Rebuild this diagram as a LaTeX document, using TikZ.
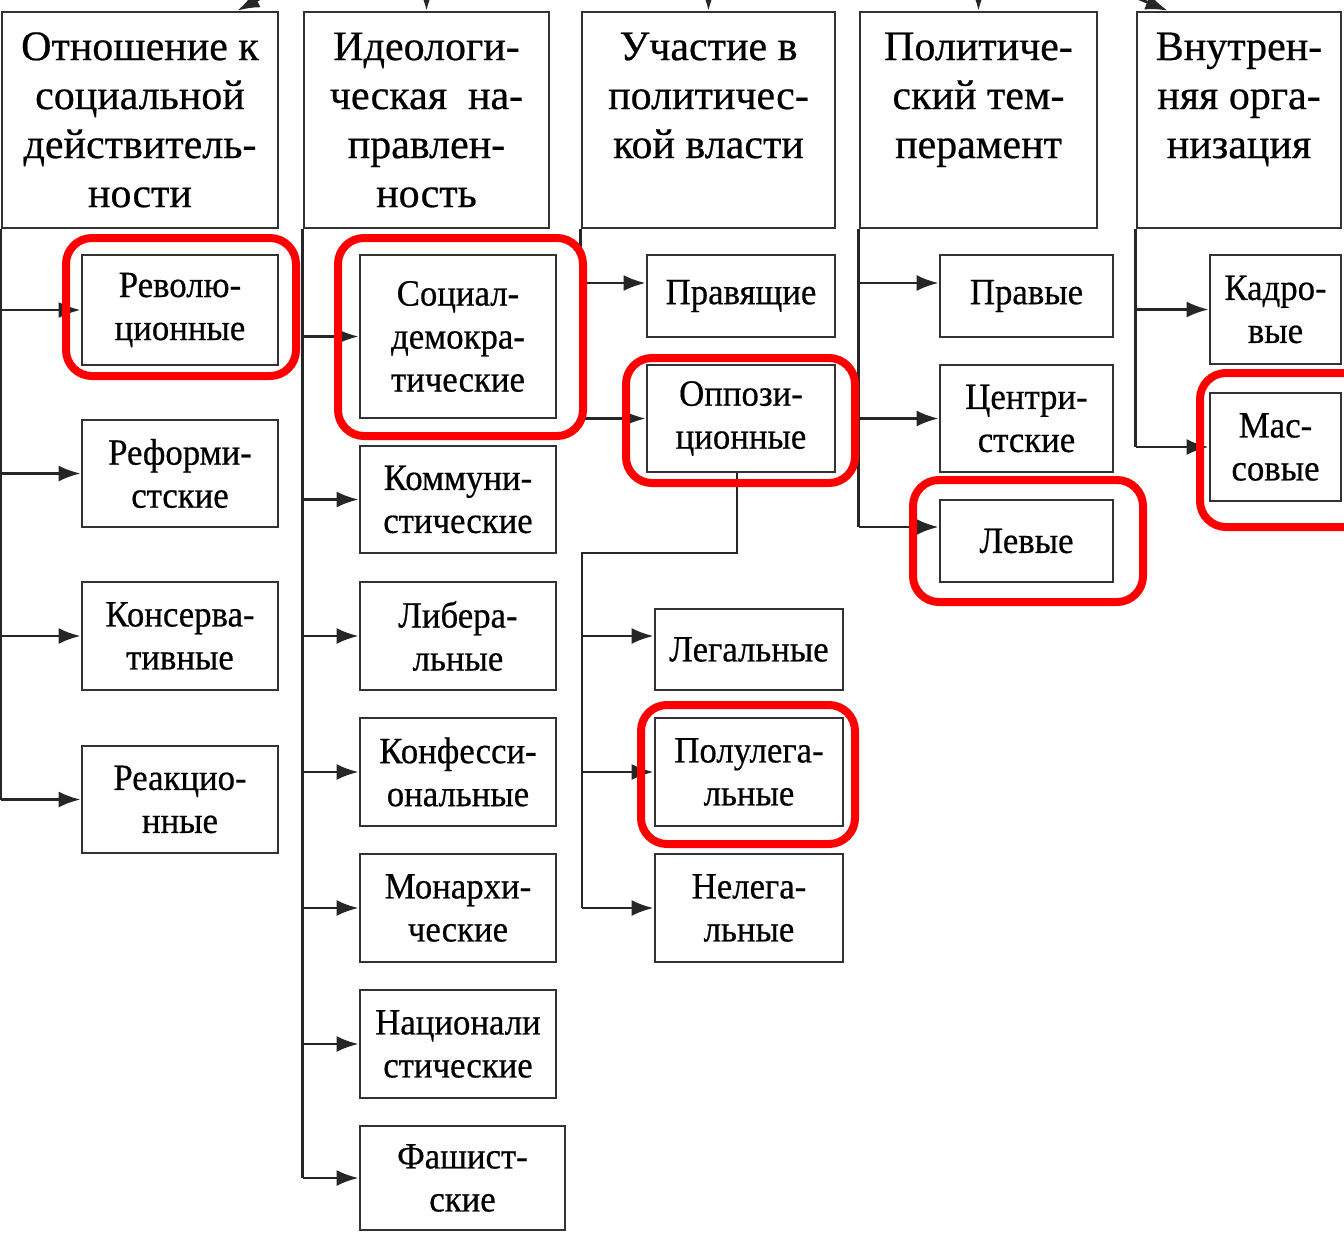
\documentclass[tikz,border=0pt]{standalone}
\usepackage{fontspec}
\setmainfont{Liberation Serif}
\newfontfamily\headfont{Liberation Serif}[FakeBold=0.5]
\newfontfamily\childfont{Liberation Serif}[FakeBold=0.5,FakeStretch=0.94]
\usetikzlibrary{arrows.meta}
\begin{document}
\begin{tikzpicture}[x=1pt,y=-1pt,
  hbox/.style={draw=black!80, line width=2.8pt, inner sep=0pt},
  htext/.style={font=\headfont\fontsize{42}{49}\selectfont, align=center, inner sep=0pt, anchor=north},
  cbox/.style={draw=black!80, line width=2.8pt, inner sep=0pt, align=center,
     font=\childfont\fontsize{37}{43}\selectfont},
  conn/.style={line width=2.8pt, black!85},
  arr/.style={conn, -{Latex[length=22pt,width=16pt]}},
  hl/.style={draw=red, line width=8pt, rounded corners=26pt}]
\useasboundingbox (0,0) rectangle (1344,1232);
\clip (0,0) rectangle (1344,1232);
\fill[white] (0,0) rectangle (1344,1232);

% headers
\node[hbox, minimum width=276pt, minimum height=216pt] (h1) at (140,120) {};
\node[hbox, minimum width=245pt, minimum height=216pt] (h2) at (426.5,120) {};
\node[hbox, minimum width=253pt, minimum height=216pt] (h3) at (708.5,120) {};
\node[hbox, minimum width=237pt, minimum height=216pt] (h4) at (978.5,120) {};
\node[hbox, minimum width=204pt, minimum height=216pt] (h5) at (1239,120) {};
\node[htext] (h1t) at ([yshift=-15pt]h1.north) {\strut Отношение к\\социальной\\действитель-\\ности};
\node[htext] (h2t) at ([yshift=-15pt]h2.north) {\strut Идеологи-\\ческая\ \ на-\\правлен-\\ность};
\node[htext] (h3t) at ([yshift=-15pt]h3.north) {\strut Участие в\\политичес-\\кой власти};
\node[htext] (h4t) at ([yshift=-15pt]h4.north) {\strut Политиче-\\ский тем-\\перамент};
\node[htext] (h5t) at ([yshift=-15pt]h5.north) {\strut Внутрен-\\няя орга-\\низация};

% arrows from above (root outside the picture)
\coordinate (r1) at (280,-12);
\coordinate (r2) at (426.5,-20);
\coordinate (r3) at (708.5,-20);
\coordinate (r4) at (978.5,-20);
\coordinate (r5) at (1113,-12);
\draw[arr] (r1) -- ([xshift=-42pt]h1.north east);
\draw[arr] (r2) -- (h2.north);
\draw[arr] (r3) -- (h3.north);
\draw[arr] (r4) -- (h4.north);
\draw[arr] (r5) -- ([xshift=32pt]h5.north west);

% column 1
\node[cbox, minimum width=196pt, minimum height=110pt] (c1a) at (180,310) {Револю-\\ционные};
\node[cbox, minimum width=196pt, minimum height=107pt] (c1b) at (180,473.5) {Реформи-\\стские};
\node[cbox, minimum width=196pt, minimum height=108pt] (c1c) at (180,636) {Консерва-\\тивные};
\node[cbox, minimum width=196pt, minimum height=107pt] (c1d) at (180,799.5) {Реакцио-\\нные};

% column 2
\node[cbox, minimum width=196pt, minimum height=163pt] (c2a) at (458,336.5) {Социал-\\демокра-\\тические};
\node[cbox, minimum width=196pt, minimum height=107pt] (c2b) at (458,499.5) {Коммуни-\\стические};
\node[cbox, minimum width=196pt, minimum height=108pt] (c2c) at (458,636) {Либера-\\льные};
\node[cbox, minimum width=196pt, minimum height=108pt] (c2d) at (458,772) {Конфесси-\\ональные};
\node[cbox, minimum width=196pt, minimum height=108pt] (c2e) at (458,908) {Монархи-\\ческие};
\node[cbox, minimum width=196pt, minimum height=108pt] (c2f) at (458,1044) {Национали\\стические};
\node[cbox, minimum width=205pt, minimum height=104pt] (c2g) at (462.5,1178) {Фашист-\\ские};

% column 3
\node[cbox, minimum width=188pt, minimum height=82pt] (c3a) at (741,296) {Правящие};
\node[cbox, minimum width=188pt, minimum height=107pt] (c3b) at (741,418.5) {Оппози-\\ционные};
\node[cbox, minimum width=188pt, minimum height=81pt] (c3c) at (749,649.5) {Легальные};
\node[cbox, minimum width=188pt, minimum height=108pt] (c3d) at (749,772) {Полулега-\\льные};
\node[cbox, minimum width=188pt, minimum height=108pt] (c3e) at (749,908) {Нелега-\\льные};

% column 4
\node[cbox, minimum width=173pt, minimum height=82pt] (c4a) at (1026.5,296) {Правые};
\node[cbox, minimum width=173pt, minimum height=107pt] (c4b) at (1026.5,418.5) {Центри-\\стские};
\node[cbox, minimum width=173pt, minimum height=82pt] (c4c) at (1026.5,541) {Левые};

% column 5
\node[cbox, minimum width=131pt, minimum height=109pt] (c5a) at (1275.5,309.5) {Кадро-\\вые};
\node[cbox, minimum width=131pt, minimum height=108pt] (c5b) at (1275.5,447) {Мас-\\совые};

% connectors column 1
\draw[conn] (h1.south west) -- (h1.south west |- c1d.west);
\foreach \n in {c1a,c1b,c1c,c1d} \draw[arr] (h1.south west |- \n.west) -- (\n.west);

% column 2
\draw[conn] (h2.south west) -- (h2.south west |- c2g.west);
\foreach \n in {c2a,c2b,c2c,c2d,c2e,c2f,c2g} \draw[arr] (h2.south west |- \n.west) -- (\n.west);

% column 3
\coordinate (a3) at ([yshift=13pt]c3a.west);
\draw[conn] (h3.south west) -- (h3.south west |- c3b.west);
\draw[arr] (h3.south west |- a3) -- (a3);
\draw[arr] (h3.south west |- c3b.west) -- (c3b.west);
\coordinate (j3) at (582,553);
\coordinate (a3c) at ([yshift=13.5pt]c3c.west);
\draw[conn] ([xshift=-4pt]c3b.south) |- (j3) -- (j3 |- c3e.west);
\draw[arr] (j3 |- a3c) -- (a3c);
\draw[arr] (j3 |- c3d.west) -- (c3d.west);
\draw[arr] (j3 |- c3e.west) -- (c3e.west);

% column 4
\coordinate (a4a) at ([yshift=13pt]c4a.west);
\coordinate (a4c) at ([yshift=14pt]c4c.west);
\draw[conn] (h4.south west) -- (h4.south west |- a4c);
\draw[arr] (h4.south west |- a4a) -- (a4a);
\draw[arr] (h4.south west |- c4b.west) -- (c4b.west);
\draw[arr] (h4.south west |- a4c) -- (a4c);

% column 5
\draw[conn] (h5.south west) -- (h5.south west |- c5b.west);
\draw[arr] (h5.south west |- c5a.west) -- (c5a.west);
\draw[arr] (h5.south west |- c5b.west) -- (c5b.west);

% red highlights
\draw[hl] (66,238) rectangle (296,376);
\draw[hl] (338,238) rectangle (583,436);
\draw[hl] (626,358) rectangle (855,483);
\draw[hl] (913,480) rectangle (1143,602);
\draw[hl] (1200,373) rectangle (1370,527);
\draw[hl] (641,705) rectangle (855,844);
\end{tikzpicture}
\end{document}
